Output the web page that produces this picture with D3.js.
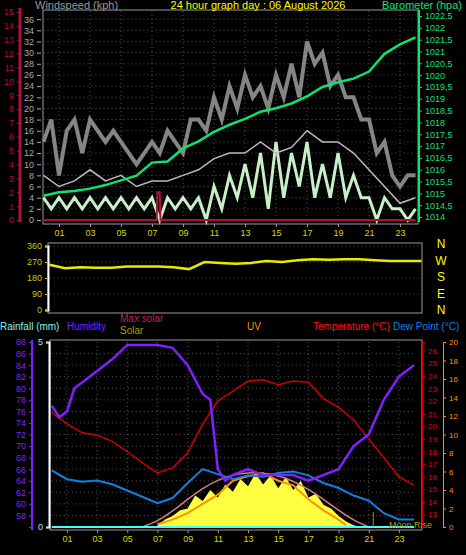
<!DOCTYPE html>
<html><head><meta charset="utf-8">
<script src="https://cdn.jsdelivr.net/npm/d3@7"></script>
<style>body{margin:0;background:#000}svg{display:block;font-family:"Liberation Sans",Arial,sans-serif}</style>
</head><body><div id="chart"></div>
<script>
// ---- data (hour of day -> value) ----
const hourTicks = [1,3,5,7,9,11,13,15,17,19,21,23];
const gustHours = d3.range(0, 24.01, 0.5);
const gust = [14,18,8,16,18,12,18,16,14,16,14,12,10,12,14,12,16,14,12,18,18,16,22,18,24,20,26,22,24,20,26,22,28,22,32,28,30,24,26,22,22,18,18,12,14,8,6,8,8];
const windSpeed = [4,2,4,2,4,2,4,2,4,2,4,2,4,2,4,0,4,2,4,2,4,0,6,2,8,4,10,4,12,2,14,4,12,6,14,4,10,4,12,4,8,4,4,0,4,2,2,0,2];
const hourly = d3.range(0, 25);
const windAvg = [8,6,7,9,7,8,6,7,7,8,9,11,12,12,14,12,13,16,14,14,12,9,6,3,4];
const baro = [1014.9,1015.05,1015.1,1015.2,1015.35,1015.55,1015.75,1016.3,1016.35,1016.9,1017.2,1017.6,1017.9,1018.15,1018.45,1018.6,1018.8,1019.1,1019.5,1019.7,1019.85,1020.15,1020.9,1021.3,1021.6];
const rainHours = [0,7.3,7.35,7.5,7.55,24];
const rainRate = [0,0,2,2,0,0];
const windDir = [255,235,240,238,238,245,245,245,240,230,270,265,260,265,275,270,280,285,282,285,285,280,275,275,275];
const humidHours = [0,0.5,1,1.5,2,3,4,5,6,7,8,9,10,10.5,11,11.5,12,13,14,15,16,17,18,19,20,21,22,23,24];
const humidity = [77,75,76,80,81,83,85,87.5,87.5,87.5,87,84,79,78,66,64,65,66,65,65,65,64,65,66,70,72,78,82,84];
const temperature = [21.1,20.2,19.5,19.3,18.8,18.0,17.1,16.3,16.7,17.9,20.2,22.0,22.8,23.6,23.7,23.3,23.6,23.5,22.2,21.5,20.5,19.0,17.5,16.0,15.3];
const dewPoint = [16.5,15.8,15.6,15.7,15.4,14.9,14.4,13.9,14.3,15.5,16.6,16.2,15.8,16.1,16.0,16.3,16.4,16.1,15.5,15.1,14.5,14.1,13.1,12.6,12.6];
const maxSolarHours = d3.range(6, 21.01, 1);
const maxSolar = [0,30,85,150,210,255,282,295,293,278,248,205,150,90,35,0];
const solarHours = d3.range(7, 20.51, 0.5);
const solar = [10,40,60,90,100,170,140,200,160,230,190,260,220,290,230,280,210,270,200,250,160,180,120,100,60,30,10,0];
const uvHours = [7,8,9,9.5,10,11,12,13,14,15,16,17,18,19,19.5];
const uv = [0.3,0.8,1.5,2,2.5,3.5,5,5.5,5.8,5,4.5,3,1.8,0.8,0.2];

const W = 466, H = 555;
const svg = d3.select("#chart").append("svg").attr("width", W).attr("height", H);
const fmt = d => String(d).padStart(2, "0");
const txt = (x, y, s, c, anchor) => svg.append("text").attr("x", x).attr("y", y).text(s)
  .attr("fill", c).attr("font-size", 11).attr("text-anchor", anchor || "start");

function grid(g, x, y, xt, yt) {
  g.selectAll(".vg").data(xt).join("line").attr("x1", x).attr("x2", x)
    .attr("y1", y.range()[0]).attr("y2", y.range()[1])
    .attr("stroke", "#555").attr("stroke-dasharray", "1,3");
  g.selectAll(".hg").data(yt).join("line").attr("y1", y).attr("y2", y)
    .attr("x1", x.range()[0]).attr("x2", x.range()[1])
    .attr("stroke", "#555").attr("stroke-dasharray", "1,3");
}
function vaxis(gen, xpos, color, fmtf, fs) {
  const g = svg.append("g").attr("transform", `translate(${xpos},0)`).call(gen.tickFormat(fmtf || null));
  g.selectAll("path,line").attr("stroke", color);
  g.selectAll("text").attr("fill", color).attr("font-size", fs || 9);
  return g;
}

// ---------- top panel ----------
const x1 = d3.scaleLinear().domain([0, 24]).range([43.5, 415.5]);
const yWind = d3.scaleLinear().domain([0, 38]).range([220, 8]);
const yRain = d3.scaleLinear().domain([0, 15]).range([220, 12]);
const yBaro = d3.scaleLinear().domain([1014, 1022.5]).range([217, 16]);
svg.append("rect").attr("x", 43).attr("y", 10).attr("width", 375).attr("height", 214)
  .attr("fill", "#000").attr("stroke", "#999");
const g1 = svg.append("g");
grid(g1, x1, yWind, d3.range(1, 24, 2), d3.range(2, 38, 2));

const line = (x, y, xs, curve) => d3.line().x((d, i) => x(xs[i])).y(d => y(d)).curve(curve || d3.curveLinear);
g1.append("path").datum(gust).attr("d", line(x1, yWind, gustHours))
  .attr("fill", "none").attr("stroke", "#858585").attr("stroke-width", 4);
g1.append("path").datum(windSpeed).attr("d", line(x1, yWind, gustHours))
  .attr("fill", "none").attr("stroke", "#c8f0c8").attr("stroke-width", 3);
g1.append("path").datum(windAvg).attr("d", line(x1, yWind, hourly))
  .attr("fill", "none").attr("stroke", "#bbb").attr("stroke-width", 1.5);
g1.append("path").datum(rainRate).attr("d", line(x1, yRain, rainHours))
  .attr("fill", "none").attr("stroke", "#b0103a").attr("stroke-width", 2);
g1.append("path").datum(baro).attr("d", line(x1, yBaro, hourly))
  .attr("fill", "none").attr("stroke", "#10e070").attr("stroke-width", 2.5);

vaxis(d3.axisLeft(yRain).tickValues(d3.range(0, 16)).tickSize(3), 20, "#b0103a");
svg.append("line").attr("x1", 20).attr("x2", 20).attr("y1", 8).attr("y2", 222).attr("stroke", "#b0103a").attr("stroke-width", 3);
vaxis(d3.axisLeft(yWind).tickValues(d3.range(0, 37, 2)).tickSize(4), 41, "#aaa").select(".domain").remove();
vaxis(d3.axisRight(yBaro).tickValues(d3.range(1014, 1022.51, 0.5)).tickSize(3), 419, "#10e070",
  d => d3.format(".1~f")(d).replace(".", ","));
svg.append("line").attr("x1", 419).attr("x2", 419).attr("y1", 10).attr("y2", 222).attr("stroke", "#10e070").attr("stroke-width", 2);
const ax1 = svg.append("g").attr("transform", "translate(0,224)")
  .call(d3.axisBottom(x1).tickValues(hourTicks).tickFormat(fmt).tickSize(3));
ax1.select(".domain").remove();
ax1.selectAll("line").attr("stroke", "#999");
ax1.selectAll("text").attr("fill", "#d8d800").attr("font-size", 9);

txt(35, 9, "Windspeed (kph)", "#999");
txt(258, 9, "24 hour graph day : 06 August 2026", "#ffff00", "middle");
txt(462, 9, "Barometer (hpa)", "#10e070", "end");

// ---------- wind direction ----------
const x2 = d3.scaleLinear().domain([0, 24]).range([49.5, 421.5]);
const yDir = d3.scaleLinear().domain([0, 360]).range([310, 246]);
svg.append("rect").attr("x", 48).attr("y", 243).attr("width", 374).attr("height", 70)
  .attr("fill", "#000").attr("stroke", "#999");
const g2 = svg.append("g");
grid(g2, x2, yDir, [], [90, 180, 270, 360]);
g2.append("path").datum(windDir).attr("d", line(x2, yDir, hourly))
  .attr("fill", "none").attr("stroke", "#e8e800").attr("stroke-width", 2.5);
const ad = vaxis(d3.axisLeft(yDir).tickValues([0, 90, 180, 270, 360]).tickSize(3), 48, "#c8c800");
ad.select(".domain").attr("stroke", "#fff").attr("stroke-width", 2);
["N", "W", "S", "E", "N"].forEach((c, i) =>
  svg.append("text").attr("x", 441).attr("y", 248 + i * 16.5).text(c).attr("fill", "#ffff00")
    .attr("font-size", 12).attr("text-anchor", "middle"));

// ---------- bottom panel ----------
const x3 = d3.scaleLinear().domain([0, 24]).range([51.8, 414]);
const yHum = d3.scaleLinear().domain([56, 88]).range([527, 342]);
const yRain2 = d3.scaleLinear().domain([0, 5]).range([527, 342]);
const yTemp = d3.scaleLinear().domain([12, 26.7]).range([527, 342]);
const yUV = d3.scaleLinear().domain([0, 20]).range([527, 342]);
const ySol = d3.scaleLinear().domain([0, 1000]).range([527, 342]);
svg.append("rect").attr("x", 50).attr("y", 340).attr("width", 372).attr("height", 190)
  .attr("fill", "#000").attr("stroke", "#999");
const g3 = svg.append("g");
grid(g3, x3, yHum, d3.range(1, 24, 2), d3.range(58, 88, 2));
g3.append("path").datum(solar)
  .attr("d", d3.area().x((d, i) => x3(solarHours[i])).y0(527).y1(d => ySol(d)))
  .attr("fill", "#ffff40");
g3.append("path").datum(uv).attr("d", line(x3, yUV, uvHours))
  .attr("fill", "none").attr("stroke", "#ff9000").attr("stroke-width", 2);
g3.append("path").datum(maxSolar).attr("d", line(x3, ySol, maxSolarHours, d3.curveBasis))
  .attr("fill", "none").attr("stroke", "#d08080").attr("stroke-width", 1.5);
g3.append("path").datum(dewPoint).attr("d", line(x3, yTemp, hourly))
  .attr("fill", "none").attr("stroke", "#1080e0").attr("stroke-width", 2);
g3.append("path").datum(temperature).attr("d", line(x3, yTemp, hourly))
  .attr("fill", "none").attr("stroke", "#d00000").attr("stroke-width", 1.5);
g3.append("path").datum(humidity).attr("d", line(x3, yHum, humidHours))
  .attr("fill", "none").attr("stroke", "#8020ff").attr("stroke-width", 2.5);
g3.append("line").attr("x1", x3(0)).attr("x2", x3(24)).attr("y1", yRain2(0)).attr("y2", yRain2(0))
  .attr("stroke", "#40ffff").attr("stroke-width", 2);
g3.append("line").attr("x1", x3(21.3)).attr("x2", x3(21.3)).attr("y1", 512).attr("y2", 527)
  .attr("stroke", "#a0a000");
txt(389, 528, "Moon Rise", "#a0a000").attr("font-size", 9);

vaxis(d3.axisLeft(yHum).tickValues(d3.range(58, 89, 2)).tickSize(3), 32, "#8020ff");
svg.append("line").attr("x1", 32).attr("x2", 32).attr("y1", 340).attr("y2", 530).attr("stroke", "#8020ff").attr("stroke-width", 2);
vaxis(d3.axisLeft(yRain2).tickValues([0, 5]).tickSize(3), 49, "#a0f0f0", d3.format("d")).select(".domain").attr("stroke", "#fff").attr("stroke-width", 2);
vaxis(d3.axisRight(yTemp).tickValues(d3.range(13, 27)).tickSize(3), 422, "#e00000", null, 8);
vaxis(d3.axisRight(yUV).tickValues(d3.range(0, 21, 2)).tickSize(3), 443, "#ff9000", null, 8);
const ax3 = svg.append("g").attr("transform", "translate(0,530)")
  .call(d3.axisBottom(x3).tickValues(hourTicks).tickFormat(fmt).tickSize(3));
ax3.select(".domain").remove();
ax3.selectAll("line").attr("stroke", "#999");
ax3.selectAll("text").attr("fill", "#d8d800").attr("font-size", 9);

txt(0, 330, "Rainfall (mm)", "#80f0f0").attr("font-size", 10);
txt(67, 330, "Humidity", "#8020ff").attr("font-size", 10);
txt(120, 322, "Max solar", "#c0204a").attr("font-size", 10);
txt(120, 334, "Solar", "#a0a000").attr("font-size", 10);
txt(247, 330, "UV", "#ff9000").attr("font-size", 10);
txt(313, 330, "Temperature (°C)", "#ff1010").attr("font-size", 10);
txt(393, 330, "Dew Point (°C)", "#1080e0").attr("font-size", 10);
</script></body></html>
